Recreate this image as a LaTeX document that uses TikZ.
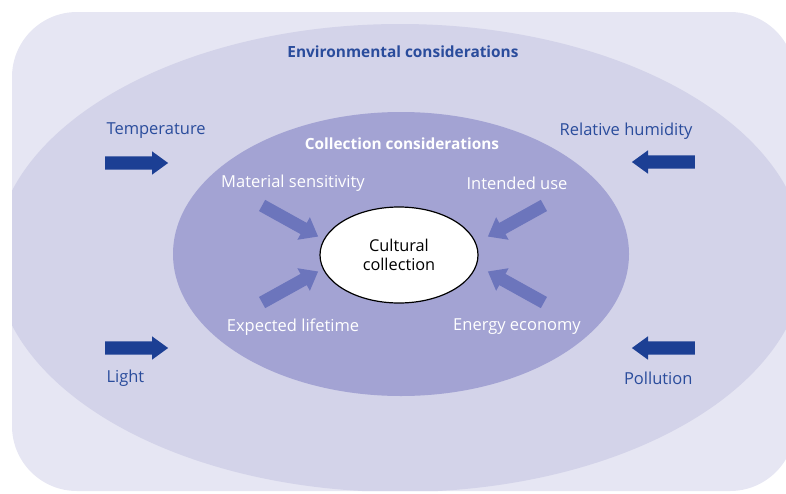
\documentclass[tikz,border=0pt]{standalone}
\usepackage{fontspec}
\setmainfont{Open Sans}
\usetikzlibrary{shapes.arrows, shapes.geometric}

\definecolor{framefill}{HTML}{E6E6F3}
\definecolor{envfill}{HTML}{D3D3E9}
\definecolor{colfill}{HTML}{A3A3D3}
\definecolor{darkarrow}{HTML}{1C3F94}
\definecolor{softarrow}{HTML}{6C75BC}
\definecolor{envtext}{HTML}{2A4C9C}

\tikzset{
    envarrow/.style={single arrow, fill=darkarrow, draw=none,
        inner xsep=0pt, inner ysep=6.5pt, minimum height=63pt,
        single arrow head extend=5pt, single arrow tip angle=72},
    colarrow/.style={single arrow, fill=softarrow, draw=none,
        inner xsep=0pt, inner ysep=6.2pt, minimum height=64pt,
        single arrow head extend=6.5pt, single arrow tip angle=76},
    envlabel/.style={text=envtext, font=\fontsize{16.5}{19}\selectfont},
    collabel/.style={text=white, font=\fontsize{16.5}{19}\selectfont},
    titlefont/.style={font=\fontsize{15.4}{18}\selectfont\bfseries},
}

\begin{document}
\begin{tikzpicture}[x=1pt, y=-1pt]

            \useasboundingbox (0, 0) rectangle (786, 493);

            % the frame
            \begin{scope}
                \path[clip, rounded corners=65pt] (12, 12) rectangle (795, 491);
                \fill[framefill] (0, 0) rectangle (800, 493);
                \fill[envfill] (400, 258) ellipse [x radius=405, y radius=234];
            \end{scope}
            \fill[colfill] (401, 254) ellipse [x radius=228, y radius=142];

            % the collection
            \node[ellipse, draw=black, line width=1.2pt, fill=white, inner sep=0pt,
                minimum width=158pt, minimum height=96pt, align=center,
                font=\fontsize{16.3}{19}\selectfont] (core) at (399, 255) {Cultural\\collection};

            % environment
            \node[envlabel, titlefont] (envtitle) at (403, 52) {Environmental considerations};
            \node[envlabel, anchor=west] (temp) at (103, 131) {Temperature};
            \node[envlabel, anchor=east] (rh) at (696, 131) {Relative humidity};
            \node[envlabel, anchor=west] (light) at (103, 378) {Light};
            \node[envlabel, anchor=east] (poll) at (696, 378) {Pollution};

            \node[envarrow] (temparrow) at (132, 163) {};
            \node[envarrow, shape border rotate=180] (rharrow) at (668, 162) {};
            \node[envarrow] (lightarrow) at (132, 348) {};
            \node[envarrow, shape border rotate=180] (pollarrow) at (668, 348) {};

            % collection
            \node[collabel, titlefont] (coltitle) at (402, 144) {Collection considerations};
            \node[collabel] (mat) at (293, 183) {Material sensitivity};
            \node[collabel] (use) at (517, 183) {Intended use};
            \node[collabel] (life) at (293, 327) {Expected lifetime};
            \node[collabel] (energy) at (517, 327) {Energy economy};

            \foreach \nm/\px/\py/\ang in {matarrow/286.5/219/-29, usearrow/519.5/219/209,
                    lifearrow/286.5/289/29, energyarrow/519.5/289/151} {
                \node[colarrow, rotate=\ang] (\nm) at (\px, \py) {};
            }

        \end{tikzpicture}
\end{document}
